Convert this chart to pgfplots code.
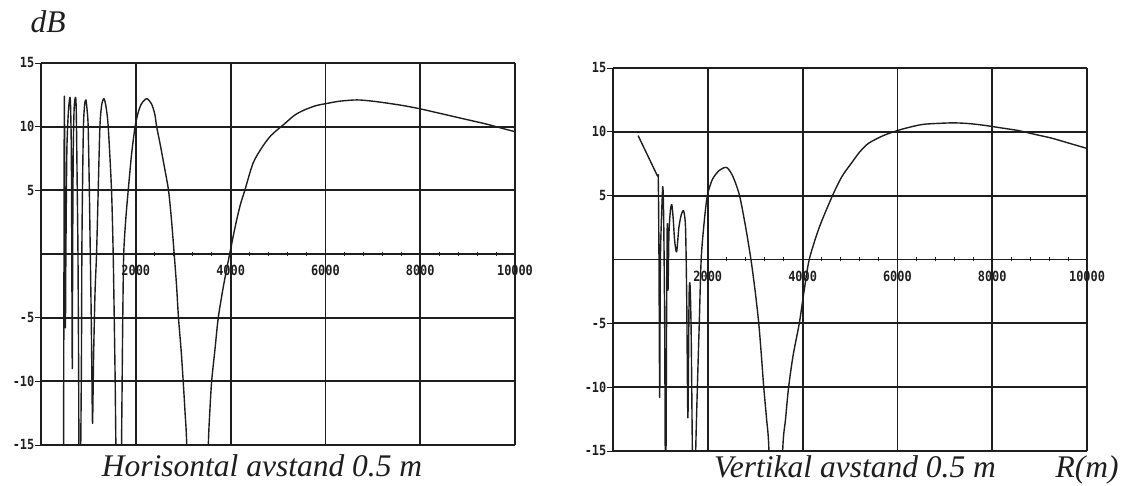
\documentclass[border=0pt]{standalone}
\usepackage{fontspec}
\usepackage{pgfplots}
\pgfplotsset{compat=1.18}
\setmainfont{Liberation Serif}
\newfontfamily\tickfont{DejaVu Sans Mono}[FakeStretch=0.85]
\definecolor{ink}{HTML}{1E1E1E}
\pgfplotsset{
  scanax/.style={
    scale only axis, width=474pt,
    xmin=0, xmax=10000, ymin=-15, ymax=15, enlargelimits=false,
    scaled x ticks=false, scaled y ticks=false,
    axis x line=middle, axis y line=left,
    axis line style={-, ink},
    every inner x axis line/.append style={line width=1.1pt},
    every outer y axis line/.append style={line width=1.8pt},
    xtick={2000,4000,6000,8000,10000},
    xticklabels={2000,4000,6000,8000,10000},
    ytick={-15,-10,-5,5,10,15},
    yticklabels={-15,-10,-5,5,10,15},
    minor x tick num=4, minor y tick num=4,
    tick align=center,
    major tick length=12pt, minor tick length=4pt,
    tick style={ink, line width=0.9pt},
    major x tick style={draw=none},
    grid=major,
    major x grid style={ink, line width=1.8pt},
    major y grid style={ink, line width=2.2pt},
    ticklabel style={font=\tickfont\bfseries\fontsize{14}{14}\selectfont, text=ink},
    yticklabel style={inner xsep=0pt, xshift=-0.5pt},
    xticklabel style={inner ysep=0pt, yshift=-5pt},
    clip=true,
  },
  curve/.style={ink, line width=1.4pt, line join=round, mark=none, solid, smooth, tension=0.45},
}
\begin{document}
\begin{tikzpicture}
\path[use as bounding box] (0pt,0pt) rectangle (1130pt,486pt);

\begin{axis}[scanax, height=382pt, at={(41pt,41pt)}, anchor=south west]
\addplot[curve] coordinates {
(470,-25) (485,0) (490,10) (493,12.4) (497,10) (505,0) (515,-5.8) (525,0)
(545,8) (575,11) (600,12.1) (612,12.3) (625,11.5) (640,8) (650,0) (660,-9)
(668,0) (680,8) (700,11.5) (730,12.3) (745,11) (765,5) (780,0) (795,-10) (810,-25)
(850,-10) (862,0) (875,5) (895,10) (920,11.7) (948,12.1) (975,11.2) (995,10)
(1020,5) (1040,0) (1060,-5) (1075,-10) (1088,-13.3) (1110,-8) (1140,-3)
(1172,0) (1207,5) (1243,10) (1280,11.7) (1327,12.2) (1370,11.6) (1418,10)
(1488,5) (1523,0) (1545,-5) (1565,-10) (1580,-15) (1620,-25) (1685,-25)
(1700,-15) (1712,-10) (1725,-5) (1745,0) (1790,2.8) (1840,5) (1910,7.8)
(1985,10) (2050,11.1) (2120,11.8) (2230,12.2) (2330,11.8) (2400,11) (2440,10)
(2510,8.7) (2600,6.9) (2690,5) (2750,2.8) (2810,0) (2860,-2.5) (2900,-5)
(2955,-7.5) (3000,-10) (3040,-12.5) (3075,-15) (3150,-25) (3450,-25)
(3530,-15) (3560,-12.5) (3600,-10) (3670,-7.5) (3740,-5) (3850,-2.5) (3980,0)
(4100,2.2) (4200,3.8) (4300,5) (4470,7.1) (4650,8.3) (4850,9.3) (5130,10.2)
(5350,10.9) (5550,11.3) (5800,11.65) (6000,11.8) (6300,12) (6670,12.1)
(7000,12) (7300,11.85) (7650,11.65) (8000,11.4) (8350,11.1) (8700,10.8)
(9050,10.5) (9400,10.2) (9700,9.9) (10000,9.6)
};
\draw[ink, line width=1.1pt] (axis cs:0,0) -- ++(-13pt,0pt);
\end{axis}

\begin{axis}[scanax, height=383pt, at={(613pt,35pt)}, anchor=south west]
\addplot[curve] coordinates {
(530,9.7) (930,6.6) (955,6.3) (970,0) (985,-10.8) (1000,0) (1040,5) (1054,5.6)
(1070,3) (1090,-5) (1110,-20) (1130,-5) (1145,2.8) (1160,-2.4) (1180,2)
(1210,3.8) (1240,4.3) (1270,3.2) (1300,1.5) (1342,0.6) (1390,2.5) (1440,3.5)
(1490,3.8) (1530,2.5) (1555,-3) (1580,-12.4) (1605,-3) (1625,-2) (1650,-6)
(1690,-20) (1730,-20) (1745,-15) (1780,-10) (1820,-5) (1860,0) (1920,2.8)
(1990,5) (2100,6.3) (2250,7) (2400,7.2) (2530,6.5) (2670,5) (2800,2.5)
(2910,0) (3000,-2.5) (3075,-5) (3130,-7.5) (3180,-10) (3240,-12.5) (3290,-15)
(3350,-25) (3520,-25) (3580,-15) (3640,-12.5) (3705,-10) (3800,-7.5)
(3930,-5) (4030,-2.5) (4140,0) (4350,2.5) (4630,5) (4830,6.5) (5040,7.6)
(5200,8.4) (5390,9.1) (5700,9.7) (6000,10.1) (6300,10.4) (6580,10.6)
(7140,10.7) (7500,10.65) (7850,10.5) (8200,10.3) (8550,10.1) (8900,9.8)
(9260,9.5) (9630,9.1) (10000,8.7)
};
\draw[ink, line width=1.1pt] (axis cs:0,0) -- ++(-11pt,0pt);
\end{axis}

\node[anchor=base, font=\itshape\fontsize{31.5}{32}\selectfont, text=ink, inner sep=0pt] at (48pt,453pt) {dB};
\node[anchor=base, font=\itshape\fontsize{31.5}{32}\selectfont, text=ink, inner sep=0pt] at (262pt,9pt) {Horisontal avstand 0.5 m};
\node[anchor=base, font=\itshape\fontsize{31.5}{32}\selectfont, text=ink, inner sep=0pt] at (855pt,8pt) {Vertikal avstand 0.5 m};
\node[anchor=base, font=\itshape\fontsize{31.5}{32}\selectfont, text=ink, inner sep=0pt] at (1087pt,8pt) {R(m)};
\end{tikzpicture}
\end{document}
